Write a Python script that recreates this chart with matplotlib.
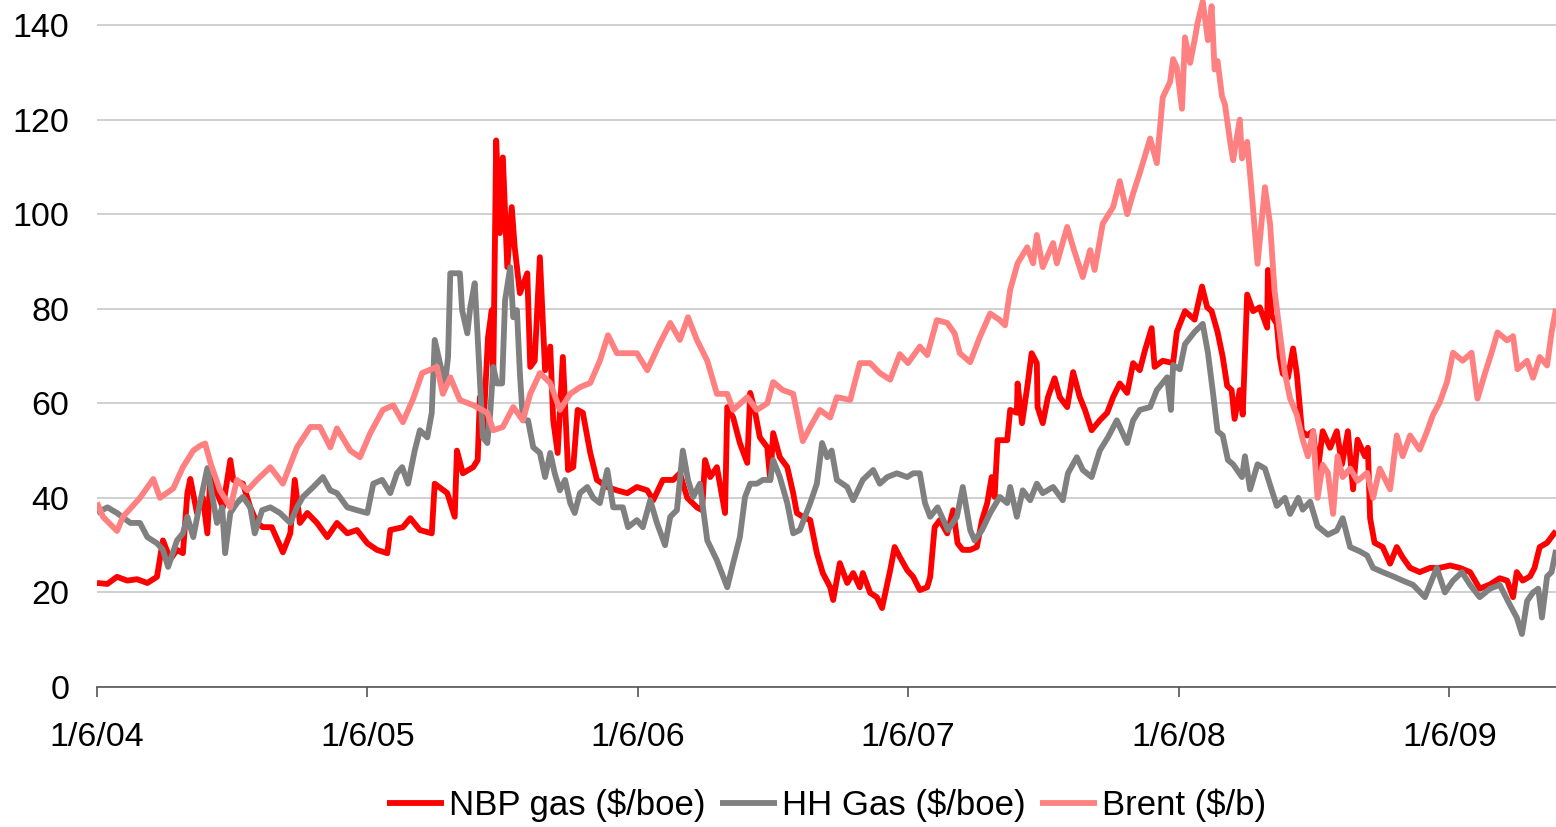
import pandas as pd
import numpy as np
from matplotlib import pyplot as plt

plt.rcParams['font.family'] = ['Liberation Sans', 'DejaVu Sans']

start = pd.Timestamp('2004-06-01')
end_day = 1970

# days since 1 June 2004
nbp_day = [0, 14, 27, 41, 54, 68, 81, 89, 99, 108, 116, 122, 126, 135, 143, 149, 153, 162, 170, 180,
           184, 197, 207, 216, 224, 236, 251, 261, 267, 274, 284, 297, 311, 324, 338, 351, 365, 378, 392, 396,
           413, 423, 436, 452, 456, 473, 483, 486, 494, 508, 514, 517, 521, 528, 533, 535, 539, 544, 548, 554,
           560, 564, 571, 581, 585, 591, 598, 605, 612, 616, 622, 629, 636, 643, 649, 656, 666, 675, 689, 702,
           716, 729, 743, 751, 764, 778, 787, 797, 810, 817, 821, 828, 837, 848, 851, 859, 868, 878, 882, 888,
           895, 905, 909, 913, 922, 932, 940, 945, 953, 963, 972, 980, 990, 994, 1003, 1013, 1021, 1030, 1034, 1044,
           1053, 1060, 1071, 1077, 1084, 1094, 1102, 1111, 1121, 1125, 1131, 1138, 1148, 1156, 1162, 1169, 1179, 1188, 1195, 1202,
           1208, 1212, 1216, 1229, 1233, 1242, 1243, 1249, 1256, 1262, 1269, 1270, 1277, 1284, 1293, 1300, 1310, 1318, 1327, 1334,
           1343, 1354, 1364, 1372, 1381, 1391, 1399, 1408, 1415, 1424, 1428, 1439, 1453, 1458, 1469, 1482, 1492, 1499, 1505, 1513,
           1520, 1526, 1532, 1536, 1543, 1547, 1553, 1561, 1570, 1580, 1581, 1586, 1593, 1597, 1601, 1608, 1615, 1620, 1627, 1634,
           1642, 1648, 1655, 1665, 1674, 1681, 1689, 1696, 1702, 1712, 1716, 1719, 1725, 1736, 1746, 1755, 1763, 1773, 1786, 1800,
           1813, 1827, 1840, 1854, 1867, 1881, 1894, 1904, 1912, 1917, 1925, 1935, 1941, 1948, 1958, 1970]
nbp = [22, 21.8, 23.3, 22.5, 22.8, 22, 23.3, 31, 27, 29, 28.3, 41, 44, 36.8, 40, 32.5, 44.4, 41, 38, 48,
       43.8, 43, 38, 34.7, 33.8, 33.8, 28.5, 32.5, 43.8, 34.7, 36.8, 34.7, 31.7, 34.7, 32.5, 33.2, 30.4, 29, 28.3, 33.2,
       33.8, 35.7, 33.2, 32.5, 43, 41, 36, 50, 45.2, 46.5, 48, 61.3, 52.8, 74, 79.7, 65, 115.6, 96, 112, 88.8,
       101.5, 93, 83.3, 87.5, 67.7, 69, 90.9, 67, 72, 56.4, 49.5, 69.8, 45.9, 46.5, 58.6, 58, 49.5, 43.8, 42.3, 41.6,
       41, 42.3, 41.6, 39.5, 43.8, 43.8, 45.2, 40, 38, 37.4, 48, 44.4, 46.5, 36.8, 59.2, 57, 51.6, 47.4, 62.2, 58.6,
       52.8, 50.7, 43.8, 53.7, 48.6, 46.5, 41, 36.8, 36, 35.3, 28.3, 24.1, 21.1, 18.4, 26.2, 22, 24.1, 21.1, 24.1, 19.9,
       19, 16.7, 24.7, 29.6, 27.5, 24.7, 23.3, 20.5, 21.1, 23.3, 33.8, 35.3, 32.5, 37.4, 30.4, 29, 29, 29.6, 35.3, 38.9,
       44.4, 40.2, 52.2, 52.2, 58.6, 58, 64.2, 55.8, 63.4, 70.6, 68.5, 59.2, 55.8, 61.3, 65.3, 61.3, 59.2, 66.6, 61.3, 58.6,
       54.3, 56.4, 58, 61.3, 64.2, 62.2, 68.5, 67, 71.2, 75.9, 67.7, 69, 68.5, 75.1, 79.5, 77.7, 84.7, 80.3, 79.5, 75.1,
       69.8, 63.7, 62.8, 56.7, 62.8, 57.6, 83, 79.5, 80.3, 76, 88.2, 78.6, 76.8, 69.8, 66.3, 65.4, 71.6, 66.3, 54.1, 53.2,
       54.1, 45.3, 54.1, 50.6, 54.1, 47.1, 54.1, 41.8, 52.3, 48.8, 50.6, 35.7, 30.5, 29.6, 26.1, 29.6, 27.4, 25.2, 24.3, 25.2,
       25.2, 25.7, 25.2, 24.3, 20.8, 21.7, 23, 22.5, 19, 24.3, 22.5, 23.4, 25.2, 29.6, 30.5, 33]

hh_day = [0, 14, 27, 45, 58, 68, 81, 89, 96, 108, 116, 122, 130, 139, 149, 155, 162, 169, 173, 180,
          189, 197, 207, 213, 223, 234, 247, 261, 270, 278, 292, 305, 315, 324, 338, 351, 365, 373, 385, 396,
          405, 412, 420, 429, 436, 446, 452, 456, 463, 470, 474, 477, 490, 493, 500, 504, 510, 514, 521, 527,
          531, 535, 540, 547, 551, 558, 562, 567, 571, 575, 582, 589, 598, 605, 612, 618, 625, 632, 639, 645,
          652, 662, 670, 679, 689, 697, 710, 717, 729, 737, 747, 756, 767, 774, 783, 791, 798, 805, 814, 824,
          837, 851, 859, 868, 875, 882, 891, 899, 909, 913, 922, 932, 940, 949, 963, 972, 979, 986, 992, 999,
          1013, 1021, 1034, 1048, 1057, 1067, 1080, 1094, 1102, 1111, 1118, 1125, 1135, 1149, 1161, 1169, 1179, 1185, 1195, 1206,
          1219, 1229, 1233, 1242, 1250, 1260, 1269, 1277, 1291, 1304, 1311, 1323, 1331, 1343, 1354, 1365, 1377, 1391, 1399, 1408,
          1422, 1431, 1445, 1450, 1453, 1462, 1469, 1482, 1493, 1500, 1507, 1513, 1520, 1527, 1534, 1546, 1550, 1557, 1567, 1577,
          1584, 1593, 1604, 1611, 1622, 1628, 1638, 1648, 1662, 1674, 1682, 1692, 1705, 1715, 1723, 1736, 1750, 1763, 1777, 1793,
          1809, 1820, 1831, 1843, 1854, 1867, 1881, 1894, 1908, 1917, 1924, 1931, 1939, 1946, 1951, 1958, 1964, 1970]
hh = [36.8, 38, 36.8, 34.7, 34.7, 31.7, 30.4, 29, 25.4, 31, 32.5, 36, 31.7, 38.9, 46.3, 41, 34.7, 38, 28.3, 36.8,
      38.9, 40.2, 38, 32.5, 37.4, 38, 36.8, 34.7, 38, 40.2, 42.3, 44.4, 41.6, 41, 38, 37.4, 36.8, 43, 43.8, 41,
      45.2, 46.5, 43, 50, 54.3, 52.8, 58, 73.4, 68.5, 64.2, 69.8, 87.5, 87.5, 79.7, 74.8, 80.3, 85.4, 74, 52.8, 51.6,
      58, 67.7, 64.2, 64.2, 81.8, 88.8, 78.2, 79.7, 66.4, 56.4, 56.4, 50.7, 49.5, 44.4, 49.5, 45.2, 41.6, 43.8, 38.9, 36.8,
      41, 42.3, 40, 38.9, 45.9, 38, 38, 33.8, 35.3, 33.8, 39.5, 34.7, 30, 36, 37.4, 50, 43.8, 40.2, 43, 31,
      26.8, 21.1, 26.2, 31.7, 40.2, 43, 43, 43.8, 43.8, 48, 44.4, 38.9, 32.5, 33.2, 38.9, 43, 51.6, 48.6, 50, 43.8,
      42.3, 39.5, 43.8, 45.9, 43, 44.4, 45.2, 44.4, 45.2, 45.2, 38.9, 36, 38, 33.2, 36, 42.3, 33.2, 31, 33.2, 36.8,
      40.2, 38.9, 42.3, 36, 41.6, 39.5, 43, 41, 42.3, 39.5, 45.2, 48.6, 45.9, 44.4, 50, 52.8, 56.4, 51.6, 56.4, 58.6,
      59.2, 62.8, 65.5, 58.6, 68.1, 67.2, 72.5, 75.1, 76.8, 70.7, 62, 54.1, 53.2, 48, 47.1, 44.4, 48.8, 41.8, 47.1, 46.2,
      42.7, 38.3, 40, 36.6, 40, 37.5, 39.2, 34, 32.2, 33.1, 35.7, 29.6, 28.7, 27.8, 25.2, 24.3, 23.4, 22.5, 21.6, 19,
      25.2, 20, 22.5, 24.3, 21.6, 19, 20.8, 21.6, 17.3, 14.7, 11.2, 18.2, 20, 20.8, 14.7, 23.4, 24.3, 29]

brent_day = [0, 8, 27, 35, 58, 76, 85, 103, 116, 130, 139, 146, 153, 166, 180, 189, 203, 216, 234, 251,
             270, 288, 301, 315, 324, 342, 355, 369, 386, 400, 413, 427, 439, 459, 467, 477, 490, 508, 527, 535,
             548, 562, 575, 585, 598, 612, 625, 639, 652, 666, 679, 690, 702, 716, 729, 743, 760, 774, 787, 798,
             810, 824, 837, 851, 859, 878, 891, 905, 913, 926, 940, 953, 963, 976, 990, 999, 1017, 1030, 1044, 1057,
             1071, 1084, 1095, 1111, 1121, 1134, 1148, 1158, 1165, 1179, 1192, 1206, 1219, 1226, 1233, 1243, 1256, 1264, 1269, 1277,
             1291, 1296, 1310, 1318, 1331, 1341, 1347, 1358, 1372, 1381, 1391, 1399, 1408, 1422, 1431, 1439, 1449, 1453, 1458, 1465,
             1469, 1476, 1482, 1486, 1493, 1500, 1505, 1509, 1513, 1519, 1523, 1530, 1534, 1543, 1546, 1553, 1559, 1567, 1577, 1584,
             1590, 1597, 1604, 1611, 1620, 1628, 1635, 1642, 1648, 1655, 1662, 1669, 1675, 1682, 1692, 1702, 1715, 1723, 1732, 1746,
             1755, 1763, 1773, 1786, 1796, 1804, 1813, 1823, 1831, 1844, 1856, 1864, 1874, 1883, 1891, 1904, 1912, 1918, 1931, 1939,
             1948, 1958, 1964, 1970]
brent = [39, 36, 33, 36, 40, 44, 40, 42, 46.5, 50, 51, 51.5, 47.5, 41.6, 38, 43.8, 41.6, 43.8, 46.5, 43,
         50.7, 55, 55, 50.7, 54.7, 50, 48.6, 53.7, 58.6, 59.6, 56, 61, 66.4, 67.7, 62, 65.5, 60.7, 59.6, 58, 54.3,
         55, 59.2, 56.4, 62, 66.4, 64.3, 58.6, 62, 63.4, 64.3, 69, 74.4, 70.6, 70.6, 70.6, 67, 72.7, 77, 73.4, 78.2,
         73.4, 69, 62, 62, 58.6, 61.3, 58.6, 60, 64.5, 62.8, 62, 52, 55, 58.6, 57, 61.3, 60.7, 68.5, 68.5, 66.4,
         65, 70.4, 68.5, 72, 70.2, 77.6, 77, 74.8, 70.6, 68.7, 74, 79, 77.6, 76.5, 84, 89.6, 93, 89.6, 95.6, 88.8,
         93.9, 89.6, 97.3, 93, 86.7, 92.4, 88.2, 98, 101.5, 107, 100, 104.4, 108.7, 116, 110.8, 124.7, 128, 132.8, 131, 122.3,
         137.4, 132, 136.8, 140.4, 145, 136.8, 144, 130.6, 132.4, 125, 123.2, 115.3, 111.4, 120, 111.8, 115.3, 104.8, 89.5, 105.7, 97.8,
         83.8, 75, 66.3, 61, 57.6, 52.3, 48.8, 54, 40, 47, 45.3, 36.6, 48.8, 44.4, 46.2, 43.6, 45.3, 40, 46.2, 41.8,
         53.2, 48.8, 53.2, 50.2, 54.1, 57.6, 60.2, 64.6, 70.7, 69, 70.7, 61, 66.3, 70.7, 75, 73.3, 74.2, 67.2, 69, 65.4,
         69.8, 68, 75, 80]

labels = ['NBP gas ($/boe)', 'HH Gas ($/boe)', 'Brent ($/b)']
colours = ['#ff0000', '#808080', '#ff8080']
tick_dates = ['2004-06-01', '2005-06-01', '2006-06-01', '2007-06-01', '2008-06-01', '2009-06-01']
tick_labels = ['1/6/04', '1/6/05', '1/6/06', '1/6/07', '1/6/08', '1/6/09']


def to_dates(days):
    return start + pd.to_timedelta(np.array(days), unit='D')


fig = plt.figure(figsize=(15.56, 8.27), dpi=100)
ax = fig.add_axes([97 / 1556, 140 / 827, 1459 / 1556, 687 / 827])

for days, vals, name, col in zip([nbp_day, hh_day, brent_day], [nbp, hh, brent], labels, colours):
    ax.plot(to_dates(days), vals, color=col, lw=4.2, label=name,
            solid_joinstyle='round', solid_capstyle='butt')

ax.set_xlim(start, start + pd.Timedelta(days=end_day))
ax.set_ylim(0, 145.3)
ax.set_yticks(range(0, 141, 20))
ax.set_xticks(pd.to_datetime(tick_dates))
ax.set_xticklabels(tick_labels)

ax.grid(axis='y', color='#c8c8c8', lw=1.2)
ax.set_axisbelow(True)
for side in ['top', 'right', 'left']:
    ax.spines[side].set_visible(False)
ax.spines['bottom'].set_color('#555555')
ax.spines['bottom'].set_linewidth(1.2)

ax.tick_params(axis='y', length=0, pad=20, labelsize=24.5)
ax.tick_params(axis='x', length=7, width=1.2, color='#555555', pad=18, labelsize=24.5)

ax.legend(loc='center', bbox_to_anchor=(0.5, -0.172), ncol=3, frameon=False,
          fontsize=25, handlelength=1.65, handletextpad=0.15, columnspacing=0.4)

fig.savefig('out.png', dpi=100)
